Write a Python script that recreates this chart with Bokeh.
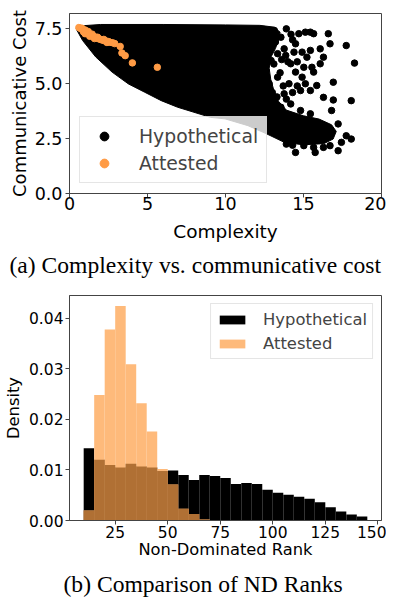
import numpy as np
from bokeh.plotting import figure
from bokeh.models import Legend, LegendItem, FixedTicker, NumeralTickFormatter, Title
from bokeh.layouts import column
from bokeh.embed import file_html
from bokeh.resources import INLINE

# ---------------- Data: (a) scatter ----------------
# dense region of hypothetical languages (outline of the black cloud)
cloud_x = [0.42, 0.6, 2.0, 6.0, 10.0, 12.2, 13.1, 13.5, 13.4, 13.2, 12.9, 12.8, 12.9, 13.1, 13.4, 13.9,
           15.0, 16.0, 16.8, 17.1, 16.9, 16.3, 15.0, 13.8, 12.6, 11.44, 9.97, 9.03, 7.98, 6.93,
           5.88, 4.83, 3.78, 2.73, 1.68, 0.84]
cloud_y = [7.51, 7.63, 7.70, 7.70, 7.68, 7.66, 7.58, 7.35, 7.00, 6.60, 6.20, 5.70, 5.20, 4.70, 4.20, 3.80,
           3.54, 3.39, 3.13, 2.83, 2.48, 2.27, 2.22, 2.32, 2.73, 3.09, 3.40, 3.47, 3.70, 3.93,
           4.23, 4.61, 4.99, 5.53, 6.22, 6.97]

# scattered hypothetical languages
hyp_x = [14.70, 15.12, 15.44, 15.65, 16.59, 16.70, 17.74, 18.27, 14.49, 13.76, 13.34, 13.86, 14.39,
         14.91, 15.44, 16.07, 16.28, 16.07, 15.54, 15.22, 15.02, 14.49, 15.65, 14.91, 15.12, 15.85,
         15.44, 14.81, 16.28, 16.91, 16.91, 18.06, 16.80, 17.22, 17.74, 18.06, 14.49, 15.02, 15.65,
         15.75, 16.28, 16.70, 17.22, 17.43, 13.13, 13.55, 12.92, 13.34, 13.76, 14.18, 13.55, 14.81,
         15.44, 14.18, 14.07, 13.9, 14.3,
         12.9, 13.2, 12.7, 12.6, 12.8, 13.0, 13.3, 13.1, 13.5, 13.7, 13.9, 14.3, 14.6, 13.6,
         14.0, 14.6, 14.3, 13.9, 14.2, 12.8]
hyp_y = [7.28, 7.35, 7.35, 7.28, 7.28, 6.82, 6.74, 5.94, 6.82, 6.59, 6.37, 6.29, 6.44,
         6.44, 6.52, 6.59, 6.21, 5.91, 5.75, 6.21, 5.75, 5.53, 5.53, 5.30, 5.00, 4.92,
         4.69, 4.69, 4.38, 4.26, 5.07, 4.23, 3.78, 3.17, 2.63, 2.48, 1.87, 2.18, 2.10,
         1.87, 2.10, 2.18, 1.95, 2.33, 7.43, 7.12, 6.06, 5.30, 4.54, 4.08, 3.93, 3.78,
         3.63, 5.91, 5.00, 2.25, 2.20,
         6.70, 6.90, 6.00, 5.60, 5.00, 4.60, 4.40, 5.90, 5.50, 4.90, 4.30, 4.60, 4.90, 6.10,
         6.00, 6.00, 7.00, 7.50, 7.25, 7.20]

# attested languages
att_x = [0.6, 0.7, 0.75, 0.8, 0.85, 0.9, 0.95, 1.0, 1.05, 1.1, 1.15, 1.2, 1.3, 1.4, 1.5, 1.6, 1.7,
         1.8, 1.9, 2.0, 2.1, 2.2, 2.35, 2.5, 2.6, 2.75, 2.9,
         0.8, 1.0, 1.2, 1.0, 1.3, 1.6, 1.8, 2.2, 1.45, 0.9, 2.4,
         3.25, 3.36, 3.57, 4.03, 5.63]
att_y = [7.56, 7.53, 7.50, 7.48, 7.46, 7.43, 7.41, 7.37, 7.35, 7.32, 7.30, 7.27, 7.24, 7.20, 7.17,
         7.14, 7.11, 7.07, 7.04, 7.02, 6.99, 6.97, 6.95, 6.92, 6.89, 6.87, 6.83,
         7.53, 7.45, 7.38, 7.28, 7.16, 7.06, 7.12, 7.02, 7.26, 7.36, 6.88,
         6.70, 6.40, 6.28, 5.95, 5.75]

x1_ticks = [0, 5, 10, 15, 20]
y1_ticks = [0, 2.5, 5.0, 7.5]

# ---------------- Data: (b) histogram ----------------
bin_left = [10, 15, 20, 25, 30, 35, 40, 45, 50, 55, 60, 65, 70, 75, 80, 85, 90, 95, 100, 105,
            110, 115, 120, 125, 130, 135, 140]
bin_right = [15, 20, 25, 30, 35, 40, 45, 50, 55, 60, 65, 70, 75, 80, 85, 90, 95, 100, 105, 110,
             115, 120, 125, 130, 135, 140, 145]
hyp_density = [0.0143, 0.0120, 0.0110, 0.0105, 0.0112, 0.0107, 0.0105, 0.0098, 0.0099, 0.0090,
               0.0080, 0.0090, 0.0088, 0.0084, 0.0072, 0.0074, 0.0072, 0.0061, 0.0055, 0.0051,
               0.0047, 0.0043, 0.0036, 0.0026, 0.0018, 0.0012, 0.0008]
att_density = [0.0020, 0.0248, 0.0378, 0.0424, 0.0309, 0.0232, 0.0176, 0.0102, 0.0071, 0.0023,
               0.0013, 0.0002, 0, 0, 0, 0, 0, 0, 0, 0, 0, 0, 0, 0, 0, 0, 0]
x2_ticks = [25, 50, 75, 100, 125, 150]
y2_ticks = [0.0, 0.01, 0.02, 0.03, 0.04]

FONT = "DejaVu Sans"
SERIF = "Liberation Serif"
AX = "#444444"


def style(p, tick_size, label_size):
    p.grid.visible = False
    p.outline_line_color = AX
    p.outline_line_width = 1
    for ax in (p.xaxis[0], p.yaxis[0]):
        ax.axis_line_color = AX
        ax.major_tick_line_color = AX
        ax.minor_tick_line_color = None
        ax.major_tick_out = 4
        ax.major_tick_in = 0
        ax.major_label_text_font = FONT
        ax.major_label_text_font_size = tick_size
        ax.major_label_text_color = "black"
        ax.axis_label_text_font = FONT
        ax.axis_label_text_font_size = label_size
        ax.axis_label_text_font_style = "normal"
        ax.axis_label_text_color = "black"


def caption(p, text, offset, standoff):
    p.add_layout(Title(text=text, align="left", offset=offset, standoff=standoff,
                       text_font=SERIF, text_font_size="23.6px", text_font_style="normal",
                       text_color="black"), "below")


# ---------------- Figure (a) ----------------
p1 = figure(width=386, height=288, x_range=(0, 20), y_range=(0, 8.2),
            output_backend="svg", toolbar_location=None,
            min_border_left=64, min_border_right=5, min_border_top=13, min_border_bottom=95)
style(p1, "17.5px", "18.5px")
p1.yaxis.axis_label_text_font_size = "18px"
p1.xaxis.ticker = FixedTicker(ticks=x1_ticks)
p1.yaxis.ticker = FixedTicker(ticks=y1_ticks)
p1.yaxis.formatter = NumeralTickFormatter(format="0.0")
p1.xaxis.axis_label = "Complexity"
p1.yaxis.axis_label = "Communicative Cost"
p1.xaxis.major_label_standoff = -1
p1.xaxis.axis_label_standoff = 8
p1.yaxis.major_label_standoff = 3
p1.yaxis.axis_label_standoff = 2

p1.patch(cloud_x, cloud_y, fill_color="black", line_color="black", line_width=1)
r_hyp = p1.scatter(hyp_x, hyp_y, size=6.5, fill_color="black", line_color="black")
r_att = p1.scatter(att_x, att_y, size=6.5, fill_color="#FF9B45", line_color="#FF9B45")

leg1 = Legend(items=[LegendItem(label="Hypothetical", renderers=[r_hyp]),
                     LegendItem(label="Attested", renderers=[r_att])],
              location="bottom_left", margin=10, padding=8, spacing=5,
              glyph_width=32, glyph_height=22, label_height=22, label_standoff=19,
              label_text_font=FONT, label_text_font_size="18.8px",
              background_fill_alpha=0.8, border_line_color="#cccccc")
p1.add_layout(leg1)
caption(p1, "(a) Complexity vs. communicative cost", -60, 10)

# ---------------- Figure (b) ----------------
p2 = figure(width=386, height=318, x_range=(3.25, 151.75), y_range=(0, 0.0445),
            output_backend="svg", toolbar_location=None,
            min_border_left=61, min_border_right=1, min_border_top=7, min_border_bottom=86)
style(p2, "15.5px", "16.3px")
p2.xaxis.ticker = FixedTicker(ticks=x2_ticks)
p2.yaxis.ticker = FixedTicker(ticks=y2_ticks)
p2.yaxis.formatter = NumeralTickFormatter(format="0.00")
p2.xaxis.axis_label = "Non-Dominated Rank"
p2.yaxis.axis_label = "Density"
p2.xaxis.major_label_standoff = 1
p2.xaxis.axis_label_standoff = -1
p2.yaxis.major_label_standoff = 2
p2.yaxis.axis_label_standoff = 3

overlap = np.minimum(np.array(hyp_density), np.array(att_density))
r_h = p2.quad(left=bin_left, right=bin_right, bottom=0, top=hyp_density,
              fill_color="black", line_color=None)
r_a = p2.quad(left=bin_left, right=bin_right, bottom=0, top=att_density,
              fill_color="#FEBA7B", line_color=None)
p2.quad(left=bin_left, right=bin_right, bottom=0, top=overlap,
        fill_color="#B07034", line_color=None)

leg2 = Legend(items=[LegendItem(label="Hypothetical", renderers=[r_h]),
                     LegendItem(label="Attested", renderers=[r_a])],
              location="top_right", margin=8, padding=5, spacing=4,
              glyph_width=32, glyph_height=11, label_height=20, label_standoff=15,
              label_text_font=FONT, label_text_font_size="16.4px",
              background_fill_alpha=0.8, border_line_color="#cccccc")
p2.add_layout(leg2)
caption(p2, "(b) Comparison of ND Ranks", -6, 15)

layout = column(p1, p2, spacing=0)
open("out.html", "w").write(file_html(layout, INLINE))
